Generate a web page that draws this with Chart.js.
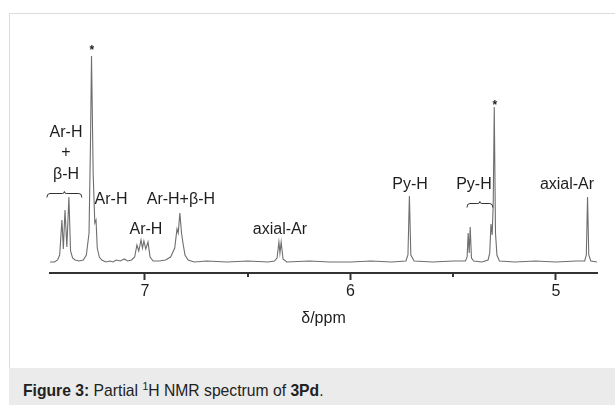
<!DOCTYPE html>
<html>
<head>
<meta charset="utf-8">
<script src="https://cdn.jsdelivr.net/npm/chart.js@4.4.1/dist/chart.umd.min.js"></script>
<style>
  html, body { margin: 0; overflow: hidden; background: #fff; font-family: 'Liberation Sans', Arial, sans-serif; }
  #frame { position: absolute; left: 9px; top: 13px; width: 620px; height: 355px; border-left: 1px solid #dcdcdc; border-top: 1px solid #dcdcdc; }
  #chart { position: absolute; left: 0; top: 0; }
  #caption { position: absolute; left: 9px; top: 368px; width: 620px; height: 37px; background: #ebebeb; box-sizing: border-box; padding: 15px 0 0 14px; font-size: 15.7px; line-height: 15px; color: #222; }
  #caption sup { font-size: 10.5px; line-height: 0; vertical-align: 6px; }
</style>
</head>
<body>
<div id="frame"></div>
<canvas id="chart" width="615" height="368"></canvas>
<div id="caption"><b>Figure 3:</b> Partial <sup>1</sup>H NMR spectrum of <b>3Pd</b>.</div>
<script>
// spectrum trace: chemical shift (ppm) and signal height
const shifts = [
  7.462, 7.44, 7.425, 7.415, 7.404, 7.397, 7.389, 7.380, 7.370, 7.362, 7.352, 7.340, 7.320, 7.300,
  7.285, 7.272, 7.265, 7.260, 7.252, 7.244, 7.238, 7.232, 7.222, 7.21, 7.19, 7.17, 7.155, 7.14,
  7.12, 7.10, 7.085, 7.065, 7.05, 7.039, 7.030, 7.019, 7.012, 7.005, 6.996, 6.985, 6.975, 6.96,
  6.93, 6.90, 6.875, 6.855, 6.844, 6.838, 6.830, 6.822, 6.815, 6.805, 6.79, 6.76, 6.70, 6.6,
  6.5, 6.4, 6.37, 6.357, 6.348, 6.343, 6.337, 6.328, 6.31, 6.2, 6.1, 6.0, 5.9, 5.8,
  5.73, 5.72, 5.713, 5.706, 5.69, 5.6, 5.5, 5.44, 5.432, 5.427, 5.422, 5.417, 5.411, 5.40,
  5.36, 5.33, 5.322, 5.316, 5.310, 5.305, 5.300, 5.294, 5.287, 5.275, 5.20, 5.1, 5.0, 4.9,
  4.86, 4.852, 4.846, 4.840, 4.830, 4.80
];
const heights = [
  1, 1, 3, 8, 43, 14, 53, 16, 66, 12, 5, 3, 2, 3,
  8, 30, 120, 207, 90, 40, 43, 15, 6, 3, 1, 2, 1, 3,
  2, 4, 2, 3, 6, 18, 12, 23, 15, 22, 14, 21, 6, 2,
  2, 3, 6, 15, 34, 30, 50, 30, 20, 8, 3, 1, 2, 1,
  2, 1, 2, 5, 21, 10, 21, 4, 1, 2, 1, 1, 2, 1,
  2, 8, 67, 8, 2, 1, 2, 2, 6, 30, 10, 36, 5, 2,
  1, 3, 10, 39, 28, 60, 156, 30, 8, 2, 1, 2, 1, 2,
  2, 8, 66, 8, 2, 1
];

const majorTicks = [5, 6, 7];
const minorTicks = [5.5, 6.5];

// peak assignments, placed in ppm / height units
const peakLabels = [
  { text: 'Ar-H', ppm: 7.384, h: 130 },
  { text: '+', ppm: 7.384, h: 110 },
  { text: 'β-H', ppm: 7.384, h: 88 },
  { text: 'Ar-H', ppm: 7.165, h: 63 },
  { text: 'Ar-H', ppm: 6.995, h: 33 },
  { text: 'Ar-H+β-H', ppm: 6.825, h: 63 },
  { text: 'axial-Ar', ppm: 6.343, h: 33 },
  { text: 'Py-H', ppm: 5.710, h: 78 },
  { text: 'Py-H', ppm: 5.399, h: 78 },
  { text: 'axial-Ar', ppm: 4.946, h: 78 }
];
const brackets = [
  { from: 7.477, to: 7.307, h: 70 },
  { from: 5.433, to: 5.307, h: 60 }
];
const stars = [
  { ppm: 7.258, h: 215 },
  { ppm: 5.297, h: 160 }
];

const points = shifts.map((s, i) => ({ x: s, y: heights[i] }));

const annotate = {
  id: 'annotate',
  afterDatasetsDraw(chart) {
    const { ctx, scales: { x, y } } = chart;
    ctx.save();

    // short minor ticks under the axis
    ctx.strokeStyle = '#333';
    ctx.lineWidth = 2;
    minorTicks.forEach(v => {
      const px = Math.round(x.getPixelForValue(v));
      ctx.beginPath();
      ctx.moveTo(px, y.bottom);
      ctx.lineTo(px, y.bottom + 4);
      ctx.stroke();
    });

    ctx.fillStyle = '#1e1e1e';
    ctx.font = "16px 'Liberation Sans', Arial, sans-serif";
    ctx.textAlign = 'center';
    ctx.textBaseline = 'middle';
    peakLabels.forEach(l => {
      ctx.fillText(l.text, x.getPixelForValue(l.ppm), y.getPixelForValue(l.h));
    });

    ctx.font = "bold 12px 'Liberation Sans', Arial, sans-serif";
    stars.forEach(s => {
      ctx.fillText('*', x.getPixelForValue(s.ppm), y.getPixelForValue(s.h) + 3);
    });

    // curly brackets over grouped signals
    ctx.strokeStyle = '#333';
    ctx.lineWidth = 1;
    brackets.forEach(b => {
      const x1 = x.getPixelForValue(b.from), x2 = x.getPixelForValue(b.to);
      const yy = Math.round(y.getPixelForValue(b.h)) + 0.5;
      const xc = (x1 + x2) / 2;
      ctx.beginPath();
      ctx.moveTo(x1, yy + 4);
      ctx.quadraticCurveTo(x1, yy, x1 + 3, yy);
      ctx.lineTo(xc - 2, yy);
      ctx.quadraticCurveTo(xc, yy, xc, yy - 2);
      ctx.quadraticCurveTo(xc, yy, xc + 2, yy);
      ctx.lineTo(x2 - 3, yy);
      ctx.quadraticCurveTo(x2, yy, x2, yy + 4);
      ctx.stroke();
    });
    ctx.restore();
  }
};

new Chart(document.getElementById('chart'), {
  type: 'line',
  data: {
    datasets: [{
      data: points,
      borderColor: '#6e6e6e',
      borderWidth: 1.1,
      pointRadius: 0,
      tension: 0,
      fill: false
    }]
  },
  options: {
    responsive: false,
    animation: false,
    devicePixelRatio: 1,
    layout: { padding: { left: 50, right: 18, top: 33, bottom: 40 } },
    plugins: { legend: { display: false }, tooltip: { enabled: false } },
    scales: {
      x: {
        type: 'linear',
        reverse: true,
        min: 4.80,
        max: 7.462,
        afterBuildTicks: scale => { scale.ticks = majorTicks.map(v => ({ value: v })); },
        afterFit: scale => { scale.height = 55; },
        border: { display: true, color: '#333', width: 2 },
        grid: { drawOnChartArea: false, drawTicks: true, tickLength: 7, tickWidth: 2, tickColor: '#333' },
        ticks: {
          color: '#1e1e1e',
          padding: 2,
          maxRotation: 0,
          font: { family: "'Liberation Sans', Arial, sans-serif", size: 16 }
        },
        title: {
          display: true,
          text: 'δ/ppm',
          color: '#1e1e1e',
          padding: { top: 4, bottom: 0 },
          font: { family: "'Liberation Sans', Arial, sans-serif", size: 16 }
        }
      },
      y: {
        display: false,
        min: -10,
        max: 230
      }
    }
  },
  plugins: [annotate]
});
</script>
</body>
</html>
